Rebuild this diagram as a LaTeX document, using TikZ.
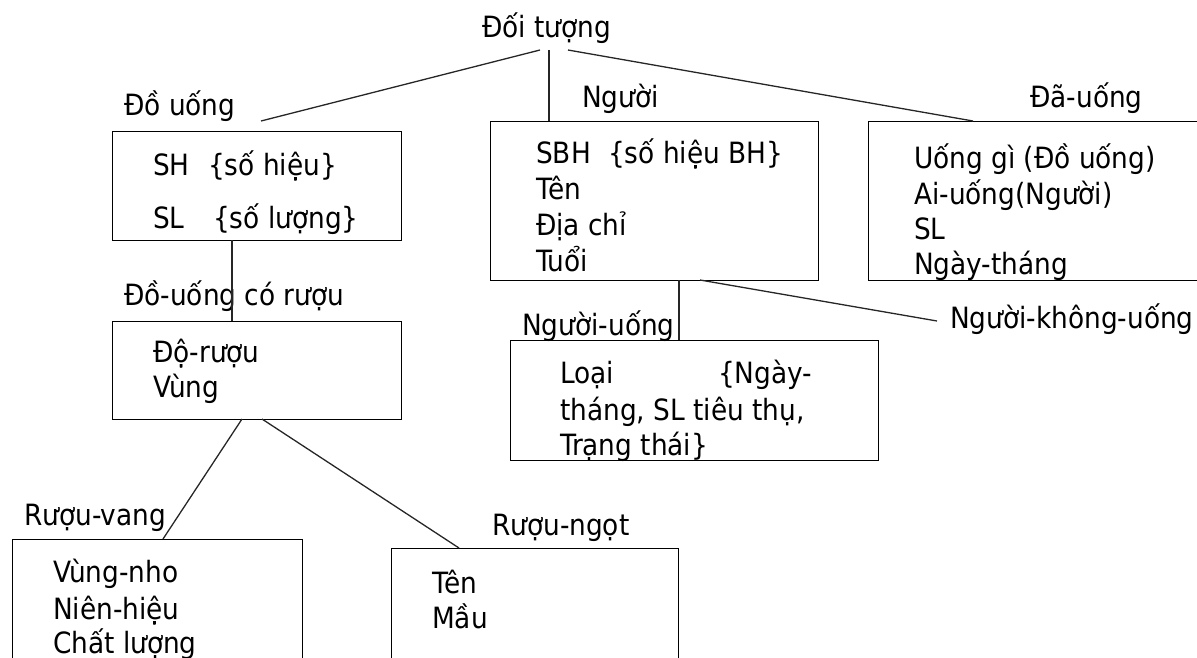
\documentclass[tikz,border=0pt]{standalone}
\usepackage{fontspec}
\setmainfont{DejaVu Sans Condensed}
\begin{document}
\begin{tikzpicture}[x=1pt,y=-1pt,
  box/.style={draw, line width=1.2pt, rectangle, inner sep=0pt, anchor=north west},
  txt/.style={anchor=base west, inner sep=0pt, font=\fontsize{29.3}{35}\selectfont},
  link/.style={draw, line width=1.3pt, black!85}]
\useasboundingbox (0,0) rectangle (1197,657);

% class boxes
\node[box, minimum width=289pt, minimum height=109pt] (du)   at (112,131) {};
\node[box, minimum width=328pt, minimum height=159pt] (ng)   at (490,121) {};
\node[box, minimum width=340pt, minimum height=159pt] (da)   at (868,121) {};
\node[box, minimum width=368pt, minimum height=120pt] (nu)   at (510,340) {};
\node[box, minimum width=289pt, minimum height=98pt]  (ducr) at (112,321) {};
\node[box, minimum width=290pt, minimum height=141pt] (rv)   at (12,539) {};
\node[box, minimum width=287pt, minimum height=132pt] (rn)   at (391,548) {};

% class names
\node[txt] (root)  at (482,37)  {Đối tượng};
\node[txt] (lDU)   at (124,115) {Đồ uống};
\node[txt] (lNG)   at (582,107) {Người};
\node[txt] (lDA)   at (1030,107) {Đã-uống};
\node[txt] (lDUCR) at (124,305) {Đồ-uống có rượu};
\node[txt] (lNU)   at (522,335) {Người-uống};
\node[txt] (lNKU)  at (950,328) {Người-không-uống};
\node[txt] (lRV)   at (24,525)  {Rượu-vang};
\node[txt] (lRN)   at (492,535) {Rượu-ngọt};

% attributes
\node[txt] (du1)  at (153,175) {SH};
\node[txt] (du1c) at (208,175) {\{số hiệu\}};
\node[txt] (du2)  at (153,228) {SL};
\node[txt] (du2c) at (213,228) {\{số lượng\}};

\node[txt] (ng1)  at (536,163) {SBH};
\node[txt] (ng1c) at (608,163) {\{số hiệu BH\}};
\node[txt] (ng2)  at (536,199) {Tên};
\node[txt] (ng3)  at (536,235) {Địa chỉ};
\node[txt] (ng4)  at (536,271) {Tuổi};

\node[txt] (da1) at (914,168) {Uống gì (Đồ uống)};
\node[txt] (da2) at (914,204) {Ai-uống(Người)};
\node[txt] (da3) at (914,239) {SL};
\node[txt] (da4) at (914,274) {Ngày-tháng};

\node[txt] (nu1)  at (560,383) {Loại};
\node[txt] (nu1c) at (718,383) {\{Ngày-};
\node[txt] (nu2)  at (560,420) {tháng, SL tiêu thụ,};
\node[txt] (nu3)  at (560,455) {Trạng thái\}};

\node[txt] (dc1) at (153,362) {Độ-rượu};
\node[txt] (dc2) at (153,397) {Vùng};

\node[txt] (rv1) at (53,582) {Vùng-nho};
\node[txt] (rv2) at (53,619) {Niên-hiệu};
\node[txt] (rv3) at (53,653) {Chất lượng};

\node[txt] (rn1) at (432,593) {Tên};
\node[txt] (rn2) at (432,628) {Mầu};

% connector end points
\coordinate (rL) at (540,50);
\coordinate (rM) at (549,50);
\coordinate (rR) at (568,50);
\coordinate (duTop) at (261,121);
\coordinate (daTop) at (973,121);
\coordinate (duBot) at (232,240);
\coordinate (ngB1) at (679,280);
\coordinate (ngB2) at (700,280);
\coordinate (nkuEnd) at (937,321);
\coordinate (dcB1) at (242,419);
\coordinate (dcB2) at (262,419);
\coordinate (rvTop) at (163,539);
\coordinate (rnTop) at (459,548);

% generalisation links
\draw[link] (rL) -- (duTop);
\draw[link] (rM) -- (rM |- ng.north);
\draw[link] (rR) -- (daTop);
\draw[link] (duBot) -- (duBot |- ducr.north);
\draw[link] (ngB1) -- (ngB1 |- nu.north);
\draw[link] (ngB2) -- (nkuEnd);
\draw[link] (dcB1) -- (rvTop);
\draw[link] (dcB2) -- (rnTop);
\end{tikzpicture}
\end{document}
